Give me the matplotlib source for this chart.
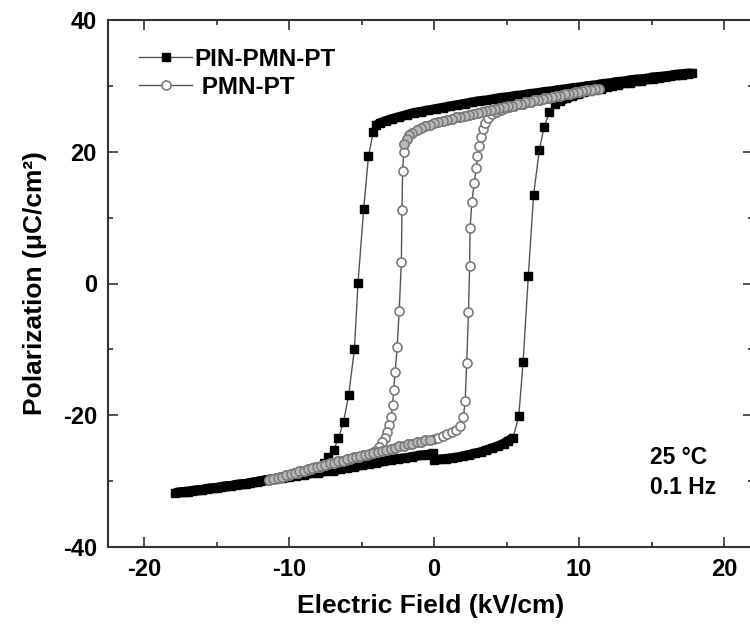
import matplotlib
matplotlib.use("Agg")
import matplotlib.pyplot as plt
from matplotlib.ticker import MultipleLocator

# PIN-PMN-PT loop, in measurement order (E in kV/cm, P in uC/cm2)
pin_e_start = [0.0, 0.4, 0.8, 1.2, 1.6, 2.0, 2.4, 2.8, 3.2, 3.6, 4.0, 4.4, 4.8, 5.1, 5.45]
pin_p_start = [-26.8, -26.7, -26.6, -26.5, -26.4, -26.2, -26.0, -25.8, -25.6, -25.3, -25.0, -24.7, -24.3, -23.9, -23.4]
pin_e_up_switch = [5.84, 6.14, 6.50, 6.86, 7.26, 7.59, 7.95, 8.35]
pin_p_up_switch = [-20.1, -11.9, 1.2, 13.4, 20.3, 23.8, 26.0, 27.2]
pin_e_top_rise = [8.7, 9.1, 9.5, 9.9, 10.3, 10.7, 11.1, 11.5, 11.9, 12.3, 12.7, 13.1, 13.5, 13.9, 14.3, 14.7,
                  15.1, 15.5, 15.9, 16.3, 16.7, 17.1, 17.5, 17.8]
pin_p_top_rise = [27.7, 28.1, 28.4, 28.7, 29.0, 29.2, 29.4, 29.6, 29.8, 30.0, 30.2, 30.4, 30.5, 30.7, 30.8, 31.0,
                  31.1, 31.2, 31.4, 31.5, 31.6, 31.7, 31.8, 31.9]
pin_e_top_fall = [17.6, 17.1, 16.6, 16.1, 15.6, 15.1, 14.6, 14.1, 13.6, 13.1, 12.6, 12.1, 11.6, 11.1, 10.6, 10.1,
                  9.6, 9.1, 8.6, 8.1, 7.6, 7.1, 6.6, 6.1, 5.6, 5.1, 4.6, 4.1, 3.6, 3.1, 2.6, 2.1, 1.6, 1.1, 0.6,
                  0.1, -0.4, -0.9, -1.4, -1.9, -2.4, -2.9, -3.3, -3.7, -4.0]
pin_p_top_fall = [31.9, 31.8, 31.7, 31.5, 31.4, 31.3, 31.1, 31.0, 30.9, 30.7, 30.6, 30.4, 30.3, 30.1, 30.0, 29.8,
                  29.7, 29.5, 29.4, 29.2, 29.1, 28.9, 28.8, 28.6, 28.5, 28.3, 28.2, 28.0, 27.8, 27.7, 27.5, 27.3,
                  27.1, 26.9, 26.7, 26.5, 26.3, 26.1, 25.9, 25.6, 25.3, 25.0, 24.7, 24.4, 24.0]
pin_e_down_switch = [-4.2, -4.53, -4.86, -5.25, -5.5, -5.9, -6.25, -6.6, -6.94, -7.29, -7.63, -7.98, -8.3]
pin_p_down_switch = [23.0, 19.3, 11.3, 0.15, -10.0, -17.0, -21.0, -23.5, -25.3, -26.4, -27.2, -27.8, -28.3]
pin_e_bottom_fall = [-8.7, -9.2, -9.7, -10.2, -10.7, -11.2, -11.7, -12.2, -12.7, -13.2, -13.7, -14.2, -14.7,
                     -15.2, -15.7, -16.2, -16.7, -17.2, -17.6, -17.9]
pin_p_bottom_fall = [-28.7, -28.9, -29.1, -29.3, -29.5, -29.7, -29.9, -30.1, -30.3, -30.5, -30.6, -30.8, -30.9,
                     -31.1, -31.2, -31.4, -31.5, -31.6, -31.7, -31.8]
pin_e_bottom_rise = [-17.5, -17.0, -16.5, -16.0, -15.5, -15.0, -14.5, -14.0, -13.5, -13.0, -12.5, -12.0, -11.5,
                     -11.0, -10.5, -10.0, -9.5, -9.0, -8.5, -8.0, -7.5, -7.0, -6.5, -6.0, -5.5, -5.0, -4.5, -4.0,
                     -3.5, -3.0, -2.5, -2.0, -1.5, -1.0, -0.5, -0.1]
pin_p_bottom_rise = [-31.7, -31.6, -31.4, -31.3, -31.1, -31.0, -30.8, -30.7, -30.5, -30.4, -30.2, -30.0, -29.8,
                     -29.7, -29.5, -29.3, -29.2, -29.0, -28.8, -28.7, -28.5, -28.4, -28.2, -28.0, -27.8, -27.6,
                     -27.4, -27.2, -27.0, -26.8, -26.6, -26.5, -26.3, -26.1, -26.0, -25.8]

# PMN-PT loop
pmn_e_start = [0.0, 0.3, 0.6, 0.9, 1.2, 1.5, 1.8]
pmn_p_start = [-23.6, -23.4, -23.1, -22.9, -22.6, -22.2, -21.6]
pmn_e_up_switch = [2.02, 2.14, 2.25, 2.37, 2.45, 2.48, 2.60, 2.76, 2.90, 2.99, 3.10, 3.24, 3.36, 3.52, 3.75, 4.0]
pmn_p_up_switch = [-20.3, -17.9, -12.0, -4.4, 2.7, 8.4, 12.3, 15.2, 17.5, 19.4, 20.8, 22.3, 23.4, 24.3, 25.1, 25.7]
pmn_e_top_rise = [4.3, 4.6, 4.9, 5.2, 5.5, 5.8, 6.1, 6.4, 6.7, 7.0, 7.3, 7.6, 7.9, 8.2, 8.5, 8.8, 9.1, 9.4, 9.7,
                  10.0, 10.3, 10.6, 10.9, 11.2, 11.4]
pmn_p_top_rise = [26.1, 26.4, 26.6, 26.8, 27.0, 27.2, 27.3, 27.5, 27.6, 27.8, 27.9, 28.1, 28.2, 28.3, 28.5, 28.6,
                  28.7, 28.8, 29.0, 29.1, 29.2, 29.3, 29.4, 29.5, 29.6]
pmn_e_top_fall = [11.1, 10.8, 10.5, 10.2, 9.9, 9.6, 9.3, 9.0, 8.7, 8.4, 8.1, 7.8, 7.5, 7.2, 6.9, 6.6, 6.3, 6.0,
                  5.7, 5.4, 5.1, 4.8, 4.5, 4.2, 3.9, 3.6, 3.3, 3.0, 2.7, 2.4, 2.1, 1.8, 1.5, 1.2, 0.9, 0.6, 0.3,
                  0.0, -0.3, -0.6, -0.9, -1.2, -1.5, -1.7, -1.9, -2.05]
pmn_p_top_fall = [29.5, 29.4, 29.3, 29.2, 29.0, 28.9, 28.8, 28.7, 28.5, 28.4, 28.3, 28.2, 28.0, 27.9, 27.8, 27.6,
                  27.5, 27.3, 27.2, 27.0, 26.9, 26.8, 26.7, 26.5, 26.4, 26.2, 26.1, 25.9, 25.8, 25.6, 25.5, 25.3,
                  25.2, 25.0, 24.8, 24.6, 24.5, 24.3, 24.1, 23.9, 23.6, 23.3, 22.9, 22.5, 21.9, 21.2]
pmn_e_down_switch = [-2.10, -2.17, -2.22, -2.26, -2.41, -2.55, -2.69, -2.78, -2.87, -2.95, -3.10, -3.25, -3.42,
                     -3.60, -3.80, -4.05]
pmn_p_down_switch = [19.9, 17.1, 11.1, 3.3, -4.1, -9.6, -13.5, -16.2, -18.4, -20.2, -21.5, -22.5, -23.4, -24.1,
                     -24.8, -25.4]
pmn_e_bottom_fall = [-4.3, -4.6, -4.9, -5.2, -5.5, -5.8, -6.1, -6.4, -6.7, -7.0, -7.3, -7.6, -7.9, -8.2, -8.5,
                     -8.8, -9.1, -9.4, -9.7, -10.0, -10.3, -10.6, -10.9, -11.2, -11.4]
pmn_p_bottom_fall = [-25.8, -26.0, -26.1, -26.3, -26.4, -26.6, -26.8, -26.9, -27.1, -27.3, -27.4, -27.6, -27.8,
                     -27.9, -28.1, -28.3, -28.5, -28.7, -28.8, -29.0, -29.2, -29.4, -29.5, -29.7, -29.8]
pmn_e_bottom_rise = [-11.1, -10.8, -10.5, -10.2, -9.9, -9.6, -9.3, -9.0, -8.7, -8.4, -8.1, -7.8, -7.5, -7.2, -6.9,
                     -6.6, -6.3, -6.0, -5.7, -5.4, -5.1, -4.8, -4.5, -4.2, -3.9, -3.6, -3.3, -3.0, -2.7, -2.4,
                     -2.1, -1.8, -1.5, -1.2, -0.9, -0.6, -0.3]
pmn_p_bottom_rise = [-29.7, -29.5, -29.3, -29.1, -28.9, -28.7, -28.5, -28.4, -28.2, -28.0, -27.8, -27.7, -27.5,
                     -27.3, -27.2, -27.0, -26.9, -26.7, -26.5, -26.4, -26.2, -26.1, -25.9, -25.7, -25.6, -25.4,
                     -25.2, -25.1, -24.9, -24.7, -24.6, -24.4, -24.3, -24.1, -24.0, -23.8, -23.7]

labels = ["PIN-PMN-PT", " PMN-PT"]
x_ticks = [-20, -10, 0, 10, 20]
y_ticks = [-40, -20, 0, 20, 40]

pin_e = (pin_e_start + pin_e_up_switch + pin_e_top_rise + pin_e_top_fall
         + pin_e_down_switch + pin_e_bottom_fall + pin_e_bottom_rise)
pin_p = (pin_p_start + pin_p_up_switch + pin_p_top_rise + pin_p_top_fall
         + pin_p_down_switch + pin_p_bottom_fall + pin_p_bottom_rise)
pmn_e = (pmn_e_start + pmn_e_up_switch + pmn_e_top_rise + pmn_e_top_fall
         + pmn_e_down_switch + pmn_e_bottom_fall + pmn_e_bottom_rise)
pmn_p = (pmn_p_start + pmn_p_up_switch + pmn_p_top_rise + pmn_p_top_fall
         + pmn_p_down_switch + pmn_p_bottom_fall + pmn_p_bottom_rise)

# saturated parts of each loop, where the points pile up into a band
pin_bands = [(pin_e_start, pin_p_start), (pin_e_top_rise, pin_p_top_rise), (pin_e_top_fall, pin_p_top_fall),
             (pin_e_bottom_fall, pin_p_bottom_fall), (pin_e_bottom_rise, pin_p_bottom_rise)]
pmn_bands = [(pmn_e_top_rise, pmn_p_top_rise), (pmn_e_top_fall, pmn_p_top_fall),
             (pmn_e_bottom_fall, pmn_p_bottom_fall), (pmn_e_bottom_rise, pmn_p_bottom_rise)]

plt.rcParams['font.family'] = ['Liberation Sans', 'DejaVu Sans']
plt.rcParams['font.weight'] = 'bold'
plt.rcParams['axes.unicode_minus'] = False

fig = plt.figure(figsize=(7.5, 6.27), dpi=100)
ax = fig.add_axes([108 / 750, 80 / 627, 645 / 750, 527 / 627])

for e, p in pin_bands:
    ax.plot(e, p, color='black', lw=7, solid_capstyle='butt')
ax.plot(pin_e, pin_p, color='#555555', lw=1, marker='s', ms=6, mfc='black', mec='black', label=labels[0])

for e, p in pmn_bands:
    ax.plot(e, p, color='#a5a5a5', lw=5.5, solid_capstyle='butt')
ax.plot(pmn_e, pmn_p, color='#555555', lw=1, marker='o', ms=6.5, mfc='white', mec='#7a7a7a', mew=1.2,
        label=labels[1])
for e, p in pmn_bands:
    ax.plot(e, p, ls='none', marker='o', ms=6.5, mfc='#b8b8b8', mec='#7a7a7a', mew=1.1)

ax.set_xlim(-22.5, 22)
ax.set_ylim(-40, 40)
ax.set_xticks(x_ticks)
ax.set_yticks(y_ticks)
ax.xaxis.set_minor_locator(MultipleLocator(5))
ax.yaxis.set_minor_locator(MultipleLocator(10))
ax.tick_params(which='both', direction='in', top=True, right=True, width=1.2, color='#333333')
ax.tick_params(which='major', length=7, labelsize=17, pad=8)
ax.tick_params(which='minor', length=3.5)
for s in ax.spines.values():
    s.set_linewidth(1.5)
    s.set_color('#333333')

ax.set_xlabel('Electric Field (kV/cm)', fontsize=19, fontweight='bold', labelpad=9)
ax.set_ylabel('Polarization (μC/cm²)', fontsize=19, fontweight='bold', labelpad=11)

ax.text(14.9, -26.4, '25 °C', fontsize=16.5, fontweight='bold', va='center')
ax.text(14.9, -30.9, '0.1 Hz', fontsize=16.5, fontweight='bold', va='center')

ax.legend(loc='upper left', bbox_to_anchor=(0.048, 0.947), frameon=False, fontsize=17.5,
          numpoints=1, handlelength=2.2, handletextpad=0.1, labelspacing=0.2,
          borderpad=0, borderaxespad=0)

fig.savefig('out.png', dpi=100, facecolor='white')
